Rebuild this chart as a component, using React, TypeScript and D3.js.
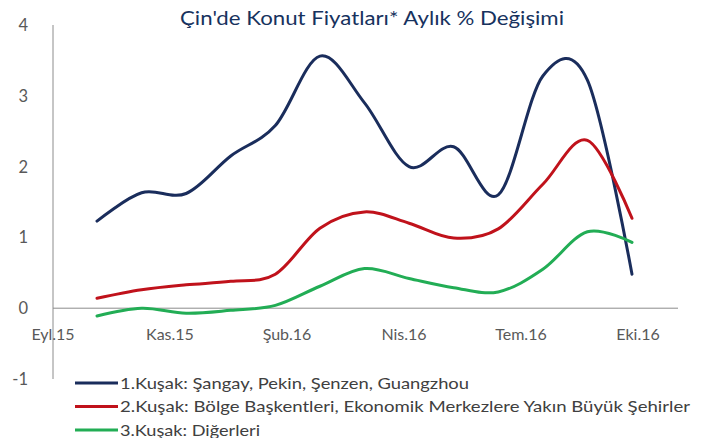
import React from "react";
import * as d3 from "d3";

const months = ["Eki.15","Kas.15","Ara.15","Oca.16","Şub.16","Mar.16","Nis.16","May.16","Haz.16","Tem.16","Ağu.16","Eyl.16","Eki.16"];
const tier1 = [1.23, 1.63, 1.62, 2.15, 2.58, 3.56, 2.9, 2.0, 2.28, 1.6, 3.28, 3.22, 0.48];
const tier2 = [0.14, 0.26, 0.33, 0.38, 0.48, 1.13, 1.36, 1.2, 0.99, 1.12, 1.75, 2.37, 1.27];
const tier3 = [-0.11, 0.0, -0.07, -0.03, 0.04, 0.31, 0.56, 0.42, 0.29, 0.23, 0.55, 1.08, 0.93];
const tickLabels = ["Eyl.15", "Kas.15", "Şub.16", "Nis.16", "Tem.16", "Eki.16"];
const yTicks = [-1, 0, 1, 2, 3, 4];
const seriesNames = [
  "1.Kuşak: Şangay, Pekin, Şenzen, Guangzhou",
  "2.Kuşak: Bölge Başkentleri, Ekonomik Merkezlere Yakın Büyük Şehirler",
  "3.Kuşak: Diğerleri",
];
const legendWidths = [349, 570, 140];
const title = "Çin'de Konut Fiyatları* Aylık % Değişimi";

const colors = ["#1a2d5c", "#c0121b", "#22ad55"];
const FONT = "Lato, 'Open Sans', sans-serif";

export default function App() {
  const W = 706, H = 438;
  const x = d3.scaleLinear().domain([0, months.length - 1]).range([97, 632]);
  const y = d3.scaleLinear().domain([-1, 4]).range([379, 25]);
  const xl = d3.scalePoint<string>().domain(tickLabels).range([53, 638]);
  const line = d3
    .line<number>()
    .x((_, i) => x(i))
    .y((d) => y(d))
    .curve(d3.curveCardinal.tension(0));
  const series = [tier1, tier2, tier3];
  return (
    <svg width={W} height={H} style={{ position: "absolute", left: 0, top: 0, background: "#fff" }} fontFamily={FONT}>
      <text x={180} y={25} fontSize={18.5} fill="#17325e" textLength={384} lengthAdjust="spacingAndGlyphs">{title}</text>
      <line x1={53} x2={53} y1={y(4)} y2={y(-1)} stroke="#8c8c8c" strokeWidth={1} />
      <line x1={53} x2={678} y1={y(0)} y2={y(0)} stroke="#8c8c8c" strokeWidth={1} />
      {yTicks.map((t) => (
        <text key={t} x={28} y={y(t) + 6} textAnchor="end" fontSize={16.5} fill="#595959">{t}</text>
      ))}
      {tickLabels.map((t) => (
        <text key={t} x={xl(t)} y={340} textAnchor="middle" fontSize={16} fill="#595959">{t}</text>
      ))}
      {series.map((s, i) => (
        <path key={i} d={line(s) || ""} fill="none" stroke={colors[i]} strokeWidth={3} strokeLinecap="round" />
      ))}
      {seriesNames.map((n, i) => (
        <g key={n}>
          <line x1={75} x2={118} y1={383 + i * 23.5} y2={383 + i * 23.5} stroke={colors[i]} strokeWidth={3} />
          <text x={120} y={388.5 + i * 23.5} fontSize={16} fill="#404040" textLength={legendWidths[i]} lengthAdjust="spacingAndGlyphs">{n}</text>
        </g>
      ))}
    </svg>
  );
}
